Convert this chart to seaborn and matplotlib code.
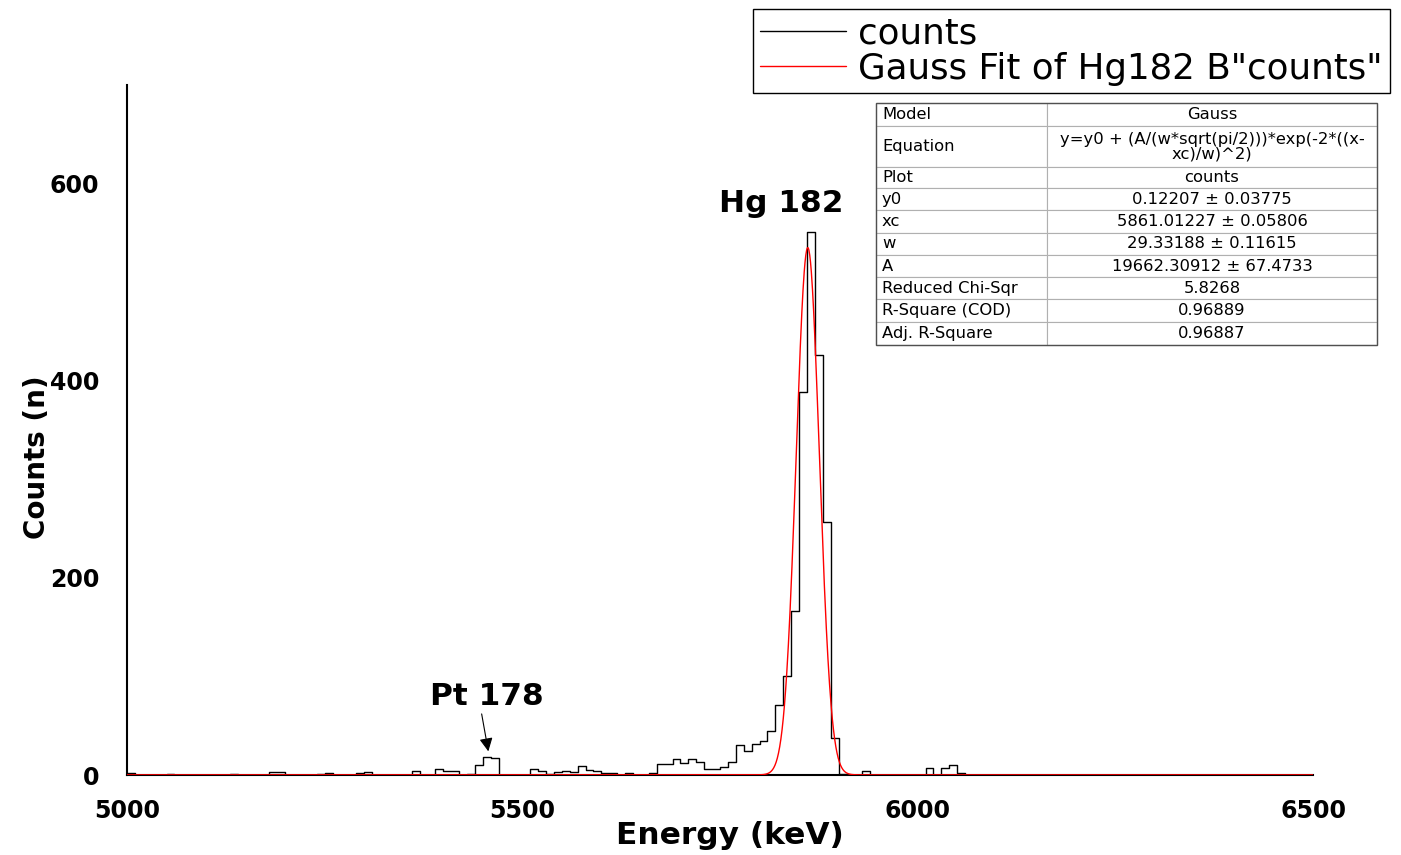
import numpy as np
import pandas as pd
import matplotlib
matplotlib.use("Agg")
import matplotlib.pyplot as plt
from matplotlib.lines import Line2D
from matplotlib.patches import Rectangle
import seaborn as sns

# ---- spectrum: 10 keV bins from 5000 to 6500 keV (only non-empty bins listed) ----
e_min, e_max, bin_width = 5000, 6500, 10
bin_left_keV = [5000, 5050, 5130, 5180, 5190, 5240, 5250, 5290, 5300, 5360,
                5390, 5400, 5410, 5430, 5440, 5450, 5460,
                5510, 5520, 5530, 5540, 5550, 5560, 5570, 5580, 5590, 5600, 5610,
                5630, 5660, 5670, 5680, 5690, 5700, 5710, 5720, 5730, 5740,
                5750, 5760, 5770, 5780, 5790, 5800, 5810, 5820, 5830, 5840,
                5850, 5860, 5870, 5880, 5890, 5900, 5930,
                6010, 6030, 6040, 6050]
bin_counts = [2, 1, 1, 3, 3, 1, 2, 2, 3, 4,
              6, 4, 4, 1, 10, 18, 17,
              6, 4, 1, 3, 4, 3, 9, 5, 4, 2, 2,
              2, 2, 11, 11, 16, 12, 16, 13, 6, 6,
              8, 13, 30, 24, 31, 35, 45, 71, 100, 166,
              389, 551, 426, 257, 38, 1, 4,
              7, 7, 10, 2]

# ---- Gauss fit parameters ----
fit_y0 = 0.12207
fit_xc = 5861.01227
fit_w = 29.33188
fit_A = 19662.30912

table_rows = [
    ["Model", "Gauss"],
    ["Equation", "y=y0 + (A/(w*sqrt(pi/2)))*exp(-2*((x-\nxc)/w)^2)"],
    ["Plot", "counts"],
    ["y0", "0.12207 \u00b1 0.03775"],
    ["xc", "5861.01227 \u00b1 0.05806"],
    ["w", "29.33188 \u00b1 0.11615"],
    ["A", "19662.30912 \u00b1 67.4733"],
    ["Reduced Chi-Sqr", "5.8268"],
    ["R-Square (COD)", "0.96889"],
    ["Adj. R-Square", "0.96887"],
]
table_row_heights = [23, 40, 21, 22, 22, 22, 22, 22, 22, 23]

y_ticks = [0, 200, 400, 600]
x_ticks = [5000, 5500, 6000, 6500]

# ---- build histogram table ----
n_bins = (e_max - e_min) // bin_width
counts = np.zeros(n_bins)
for left, c in zip(bin_left_keV, bin_counts):
    counts[(left - e_min) // bin_width] = c
spectrum = pd.DataFrame({"energy": e_min + bin_width * (np.arange(n_bins) + 0.5),
                         "counts": counts})

x_fit = np.linspace(e_min, e_max, 3001)
y_fit = fit_y0 + fit_A / (fit_w * np.sqrt(np.pi / 2)) * np.exp(-2 * ((x_fit - fit_xc) / fit_w) ** 2)
fit = pd.DataFrame({"energy": x_fit, "y": y_fit})

sns.set_style("white")
plt.rcParams["font.family"] = ["DejaVu Sans"]
plt.rcParams.update({"text.color": "black", "axes.labelcolor": "black",
                     "xtick.color": "black", "ytick.color": "black"})

W, H = 1401, 855
fig = plt.figure(figsize=(W / 100, H / 100), dpi=100)
ax = fig.add_axes([127 / W, 1 - 775 / H, (1313 - 127) / W, (775 - 85) / H])

sns.histplot(data=spectrum, x="energy", weights="counts", binwidth=bin_width,
             binrange=(e_min, e_max), element="step", fill=False,
             color="black", linewidth=1.0, ax=ax)
sns.lineplot(data=fit, x="energy", y="y", color="#ff0000", linewidth=1.0, sort=False,
             estimator=None, ax=ax, zorder=3)

ax.set_xlim(e_min, e_max)
ax.set_ylim(0, 700)
ax.set_xticks(x_ticks)
ax.set_yticks(y_ticks)
ax.tick_params(axis="both", length=0, labelsize=17)
ax.tick_params(axis="y", pad=20)
ax.tick_params(axis="x", pad=17)
for lab in ax.get_xticklabels() + ax.get_yticklabels():
    lab.set_fontweight("bold")

for side in ["top", "right"]:
    ax.spines[side].set_visible(False)
for side in ["left", "bottom"]:
    ax.spines[side].set_color("black")
    ax.spines[side].set_linewidth(1.5)
ax.spines["bottom"].set_zorder(1.5)

ax.set_xlabel("Energy (keV)", fontsize=22.5, fontweight="bold")
ax.set_ylabel("Counts (n)", fontsize=20, fontweight="bold")
ax.xaxis.set_label_coords(0.508, -0.066)
ax.yaxis.set_label_coords(-0.064, 0.46)

ax.text(5827, 580, "Hg 182", ha="center", va="center", fontsize=22.5, fontweight="bold")
ax.annotate("Pt 178", xy=(5457, 24), xytext=(5455, 80), ha="center", va="center",
            fontsize=22.5, fontweight="bold",
            arrowprops=dict(arrowstyle="-|>", color="black", lw=0.8,
                            mutation_scale=20, shrinkA=0, shrinkB=0,
                            relpos=(0.45, 0.0)))

# ---- legend above the plot area ----
handles = [Line2D([], [], color="black", lw=1.0), Line2D([], [], color="#ff0000", lw=1.0)]
leg = fig.legend(handles, ["counts", 'Gauss Fit of Hg182 B"counts"'],
                 loc="upper left", bbox_to_anchor=(753 / W, 1 - 9 / H),
                 bbox_transform=fig.transFigure, frameon=True, fancybox=False,
                 edgecolor="black", framealpha=1, fontsize=25.7,
                 handlelength=2.4, handletextpad=0.35, borderpad=0.2,
                 labelspacing=0.05, borderaxespad=0)
leg.get_frame().set_linewidth(1.0)

# ---- fit results table ----
tax = fig.add_axes([876 / W, 1 - 345 / H, (1377 - 876) / W, (345 - 103) / H])
tax.axis("off")
tbl = tax.table(cellText=table_rows, cellLoc="center", bbox=[0, 0, 1, 1],
                colWidths=[171 / 501, 330 / 501])
tbl.auto_set_font_size(False)
tbl.set_fontsize(11.8)
for (r, c), cell in tbl.get_celld().items():
    cell.set_height(table_row_heights[r])
    cell.set_edgecolor("#b0b0b0")
    cell.set_linewidth(0.8)
    cell.get_text().set_linespacing(1.0)
    cell.get_text().set_color("black")
    if c == 0:
        cell._loc = "left"
        cell.PAD = 0.035
        cell.get_text().set_horizontalalignment("left")
tax.add_patch(Rectangle((0, 0), 1, 1, transform=tax.transAxes, fill=False,
                        edgecolor="#505050", linewidth=1.0, clip_on=False))

fig.savefig("out.png", dpi=100)
